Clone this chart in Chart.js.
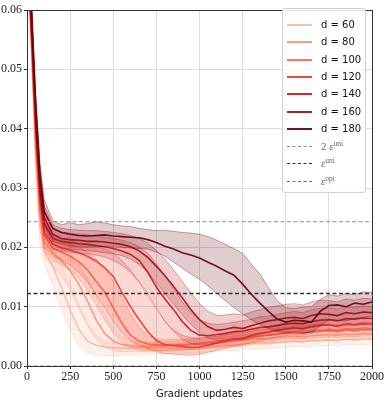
<!DOCTYPE html>
<html>
<head>
<meta charset="utf-8">
<script src="https://cdn.jsdelivr.net/npm/chart.js@4.4.1/dist/chart.umd.min.js"></script>
<style>
  html, body { margin: 0; padding: 0; background: #fff; }
  #wrap { position: relative; width: 389px; height: 401px; }
  #legend {
    position: absolute; left: 282px; top: 8px; width: 84px; height: 185px;
    background: rgba(255,255,255,0.85); border: 1px solid #d0d0d0; border-radius: 3px;
    box-sizing: border-box; font-family: "DejaVu Sans", sans-serif; font-size: 10px; color: #111;
  }
  .row { position: absolute; left: 0; height: 14px; width: 84px; }
  .sw { position: absolute; left: 4px; width: 25px; top: 6px; }
  .lab { position: absolute; left: 38px; top: 0px; line-height: 14px; white-space: nowrap; }
  .math { font-family: "Liberation Serif", serif; font-size: 11px; color: #666; }
  .math i { font-family: "Liberation Serif", serif; }
  .math sup { font-size: 7.5px; vertical-align: 4px; line-height: 0; }
</style>
</head>
<body>
<div id="wrap">
  <canvas id="c" width="389" height="401"></canvas>
  <div id="legend"></div>
</div>
<script>
// ---------------- data ----------------
const steps = [0,25,50,75,100,150,200,250,300,350,400,450,500,550,600,650,700,750,800,850,900,950,1000,1050,1100,1150,1200,1250,1300,1350,1400,1450,1500,1550,1600,1650,1700,1750,1800,1850,1900,1950,2000];
const dValues = [60, 80, 100, 120, 140, 160, 180];

const d60_mean = [0.075,0.056,0.036,0.024,0.0195,0.0168,0.0133,0.0095,0.0062,0.0042,0.0035,0.0032,0.0031,0.003,0.003,0.0031,0.003,0.0031,0.0031,0.003,0.0031,0.0032,0.0032,0.0033,0.0034,0.0035,0.0035,0.0037,0.0038,0.0039,0.0039,0.004,0.0041,0.0042,0.0041,0.0043,0.0043,0.0044,0.0043,0.0045,0.0044,0.0045,0.0046];
const d60_hi = [0.08,0.06,0.04,0.0275,0.0224,0.0195,0.0172,0.0138,0.0102,0.0072,0.0052,0.0042,0.0039,0.0038,0.0037,0.0038,0.0037,0.0038,0.0039,0.0038,0.0039,0.004,0.004,0.0041,0.0042,0.0043,0.0043,0.0045,0.0046,0.0047,0.0047,0.0048,0.005,0.0051,0.005,0.0052,0.0052,0.0053,0.0052,0.0054,0.0053,0.0054,0.0055];
const d60_lo = [0.07,0.052,0.032,0.0205,0.0172,0.0135,0.0095,0.006,0.0035,0.0022,0.0018,0.0017,0.0017,0.0018,0.0019,0.0019,0.002,0.002,0.0021,0.0021,0.0022,0.0022,0.0023,0.0024,0.0025,0.0026,0.0026,0.0028,0.0029,0.003,0.003,0.0031,0.0032,0.0033,0.0032,0.0034,0.0034,0.0035,0.0034,0.0036,0.0035,0.0036,0.0037];

const d80_mean = [0.075,0.057,0.038,0.026,0.021,0.019,0.0178,0.016,0.0138,0.011,0.0078,0.0055,0.0042,0.0036,0.0034,0.0033,0.0033,0.0034,0.0034,0.0035,0.0035,0.0036,0.0037,0.0038,0.0039,0.004,0.0042,0.0043,0.0045,0.0046,0.0046,0.0048,0.0049,0.005,0.0049,0.0051,0.0052,0.0053,0.0052,0.0054,0.0053,0.0055,0.0054];
const d80_hi = [0.08,0.061,0.042,0.029,0.0235,0.0208,0.0196,0.0185,0.017,0.0148,0.0118,0.0088,0.0065,0.005,0.0043,0.0041,0.004,0.0041,0.0041,0.0042,0.0043,0.0044,0.0045,0.0046,0.0047,0.0049,0.0051,0.0052,0.0054,0.0055,0.0056,0.0058,0.0059,0.006,0.0059,0.0061,0.0062,0.0063,0.0062,0.0064,0.0063,0.0065,0.0064];
const d80_lo = [0.07,0.053,0.034,0.023,0.0185,0.0168,0.0152,0.0128,0.0098,0.0068,0.0045,0.0032,0.0026,0.0024,0.0024,0.0024,0.0025,0.0026,0.0026,0.0027,0.0027,0.0028,0.0029,0.003,0.0031,0.0032,0.0033,0.0034,0.0036,0.0037,0.0037,0.0039,0.004,0.0041,0.004,0.0042,0.0043,0.0044,0.0043,0.0045,0.0044,0.0046,0.0045];

const d100_mean = [0.075,0.058,0.04,0.028,0.022,0.0198,0.0192,0.0185,0.0176,0.0162,0.0143,0.0125,0.0098,0.0072,0.0052,0.0042,0.0037,0.0036,0.0035,0.0036,0.0036,0.0037,0.0038,0.004,0.0041,0.0043,0.0045,0.0047,0.0049,0.0051,0.0052,0.0054,0.0055,0.0056,0.0055,0.0058,0.0059,0.006,0.0059,0.0061,0.006,0.0062,0.0061];
const d100_hi = [0.08,0.062,0.043,0.031,0.0245,0.0218,0.021,0.0205,0.02,0.0192,0.018,0.0165,0.0142,0.0115,0.0088,0.0065,0.0052,0.0046,0.0044,0.0045,0.0045,0.0046,0.0047,0.0049,0.005,0.0052,0.0055,0.0057,0.0059,0.0061,0.0062,0.0064,0.0065,0.0067,0.0066,0.0069,0.007,0.0071,0.007,0.0072,0.0071,0.0073,0.0072];
const d100_lo = [0.07,0.054,0.036,0.025,0.0195,0.0178,0.0172,0.0162,0.0148,0.0128,0.0103,0.0078,0.0056,0.004,0.0031,0.0027,0.0026,0.0026,0.0026,0.0027,0.0027,0.0028,0.0029,0.0031,0.0032,0.0034,0.0035,0.0037,0.0039,0.0041,0.0042,0.0044,0.0045,0.0046,0.0045,0.0047,0.0048,0.0049,0.0048,0.005,0.0049,0.0051,0.005];

const d120_mean = [0.075,0.058,0.041,0.029,0.0225,0.0205,0.0199,0.0195,0.0191,0.0185,0.0177,0.0166,0.0151,0.0124,0.01,0.0078,0.0058,0.0043,0.0036,0.0034,0.0033,0.0031,0.0032,0.0035,0.0039,0.0042,0.0045,0.0046,0.0052,0.0055,0.0057,0.006,0.0062,0.0064,0.0063,0.0066,0.0068,0.0069,0.0067,0.007,0.0069,0.0071,0.007];
const d120_hi = [0.08,0.062,0.044,0.032,0.025,0.0222,0.0215,0.0212,0.0208,0.0205,0.0202,0.0197,0.019,0.0178,0.0162,0.0142,0.0118,0.0095,0.0075,0.006,0.0052,0.0048,0.0047,0.0048,0.005,0.0053,0.0056,0.0058,0.0062,0.0065,0.0067,0.007,0.0072,0.0074,0.0073,0.0076,0.0078,0.0079,0.0077,0.008,0.0079,0.0081,0.008];
const d120_lo = [0.07,0.054,0.037,0.026,0.02,0.0185,0.0178,0.017,0.0158,0.0142,0.012,0.0098,0.0075,0.0056,0.0043,0.0035,0.0029,0.0024,0.0021,0.002,0.0019,0.0018,0.002,0.0023,0.0027,0.003,0.0033,0.0035,0.004,0.0043,0.0046,0.0049,0.0051,0.0053,0.0052,0.0055,0.0057,0.0058,0.0056,0.0059,0.0058,0.006,0.0059];

const d140_mean = [0.075,0.059,0.042,0.03,0.024,0.0215,0.021,0.0208,0.0206,0.0205,0.0203,0.0201,0.0198,0.0194,0.0188,0.0178,0.0158,0.0133,0.0113,0.0095,0.0075,0.006,0.0052,0.0051,0.0053,0.0055,0.0058,0.0059,0.0062,0.0065,0.0066,0.0068,0.0071,0.0072,0.0071,0.0075,0.0077,0.0078,0.0076,0.008,0.0079,0.0081,0.008];
const d140_hi = [0.08,0.063,0.045,0.033,0.026,0.0232,0.0226,0.0224,0.0222,0.0221,0.0219,0.0217,0.0215,0.0212,0.0208,0.0201,0.019,0.0172,0.0152,0.013,0.0108,0.009,0.0078,0.0072,0.007,0.0071,0.0074,0.0076,0.0079,0.0083,0.0084,0.0087,0.009,0.0092,0.009,0.0095,0.0097,0.0098,0.0096,0.01,0.0099,0.0101,0.01];
const d140_lo = [0.07,0.055,0.039,0.027,0.022,0.0198,0.0194,0.0192,0.019,0.0189,0.0187,0.0184,0.0178,0.017,0.0158,0.0142,0.0122,0.0098,0.0075,0.0058,0.0045,0.0038,0.0035,0.0036,0.0038,0.004,0.0043,0.0044,0.0047,0.005,0.0051,0.0053,0.0055,0.0056,0.0055,0.0058,0.006,0.0061,0.0059,0.0063,0.0062,0.0064,0.0063];

const d160_mean = [0.075,0.059,0.043,0.031,0.025,0.0222,0.0215,0.0213,0.0212,0.021,0.021,0.0209,0.0207,0.0205,0.0201,0.0194,0.0183,0.0168,0.0152,0.0134,0.0115,0.0095,0.0078,0.0066,0.006,0.0062,0.0065,0.0063,0.0068,0.0072,0.0076,0.0078,0.0081,0.0082,0.008,0.0085,0.0088,0.0087,0.0085,0.009,0.0088,0.0091,0.009];
const d160_hi = [0.08,0.063,0.046,0.034,0.027,0.0238,0.0232,0.023,0.0229,0.0228,0.0228,0.0227,0.0225,0.0223,0.022,0.0215,0.0207,0.0195,0.018,0.0162,0.0143,0.0123,0.0105,0.0092,0.0085,0.0086,0.0088,0.0086,0.0091,0.0095,0.0099,0.0101,0.0104,0.0105,0.0103,0.0108,0.0111,0.011,0.0108,0.0113,0.0111,0.0114,0.0113];
const d160_lo = [0.07,0.056,0.04,0.028,0.023,0.0205,0.0199,0.0197,0.0196,0.0194,0.0193,0.0191,0.0189,0.0186,0.018,0.0171,0.0158,0.014,0.0122,0.0104,0.0086,0.007,0.0057,0.0047,0.0043,0.0044,0.0047,0.0045,0.005,0.0054,0.0058,0.006,0.0063,0.0064,0.0062,0.0067,0.007,0.0069,0.0067,0.0072,0.007,0.0073,0.0072];

const d180_mean = [0.075,0.06,0.044,0.032,0.026,0.0232,0.0225,0.0222,0.022,0.0219,0.022,0.0221,0.0219,0.0218,0.0217,0.0216,0.0213,0.0208,0.0202,0.0197,0.0191,0.0187,0.0182,0.0175,0.0168,0.016,0.0153,0.0138,0.0121,0.0106,0.0092,0.0079,0.0074,0.0077,0.0076,0.0074,0.0092,0.0102,0.0103,0.01,0.0106,0.0104,0.0108];
const d180_hi = [0.08,0.062,0.046,0.034,0.028,0.0245,0.0238,0.0242,0.0238,0.024,0.0243,0.0241,0.0238,0.0236,0.0235,0.0232,0.023,0.0228,0.0229,0.0227,0.0225,0.0224,0.0222,0.0218,0.0212,0.0205,0.0198,0.019,0.0172,0.0155,0.0132,0.011,0.0098,0.0097,0.0099,0.01,0.0112,0.012,0.0118,0.0122,0.012,0.0125,0.0124];
const d180_lo = [0.07,0.057,0.041,0.029,0.0235,0.021,0.0205,0.0202,0.0201,0.02,0.0201,0.0202,0.0201,0.02,0.0199,0.0198,0.0197,0.0192,0.0185,0.0175,0.0165,0.0155,0.0146,0.0135,0.0122,0.011,0.0098,0.0088,0.0078,0.007,0.0063,0.0058,0.0056,0.0058,0.0057,0.0056,0.0068,0.0078,0.0077,0.0076,0.008,0.0082,0.0084];

const eps2uni = 0.0243;
const epsUni = 0.0122;
const epsOpt = 0.0;

const xTicks = [0, 250, 500, 750, 1000, 1250, 1500, 1750, 2000];
const yTicks = [0.00, 0.01, 0.02, 0.03, 0.04, 0.05, 0.06];

// ---------------- styling ----------------
const colors = ['#fcbba1', '#fc9272', '#fb6a4a', '#ef3b2c', '#cb181d', '#a50f15', '#67000d'];
const series = [
  [d60_mean, d60_lo, d60_hi], [d80_mean, d80_lo, d80_hi], [d100_mean, d100_lo, d100_hi],
  [d120_mean, d120_lo, d120_hi], [d140_mean, d140_lo, d140_hi], [d160_mean, d160_lo, d160_hi],
  [d180_mean, d180_lo, d180_hi]
];
function rgba(hex, a) {
  const r = parseInt(hex.slice(1,3),16), g = parseInt(hex.slice(3,5),16), b = parseInt(hex.slice(5,7),16);
  return `rgba(${r},${g},${b},${a})`;
}
const pts = arr => steps.map((s, i) => ({x: s, y: arr[i]}));

const datasets = [];
series.forEach((s, i) => {
  const c = colors[i];
  const base = 100 - i * 10;
  const loIdx = datasets.length;
  datasets.push({ label: 'lo' + dValues[i], data: pts(s[1]), borderColor: rgba(c, 0.45), borderWidth: 0.8,
    pointRadius: 0, fill: false, order: base + 2 });
  datasets.push({ label: 'hi' + dValues[i], data: pts(s[2]), borderColor: rgba(c, 0.45), borderWidth: 0.8,
    pointRadius: 0, fill: { target: loIdx }, backgroundColor: rgba(c, 0.2), order: base + 1 });
  datasets.push({ label: 'd = ' + dValues[i], data: pts(s[0]), borderColor: rgba(c, 0.92), borderWidth: 1.6,
    pointRadius: 0, fill: false, order: base });
});
const refLines = [
  { v: eps2uni, color: '#8a8a8a', w: 1.1, dash: [4, 2.5] },
  { v: epsUni, color: '#333333', w: 1.5, dash: [4, 2.5] },
  { v: epsOpt, color: '#e06060', w: 1.2, dash: [4, 2.5] }
];
refLines.forEach((r, i) => {
  datasets.push({ label: 'ref' + i, data: [{x: 0, y: r.v}, {x: 2000, y: r.v}], borderColor: r.color,
    borderWidth: r.w, borderDash: r.dash, pointRadius: 0, fill: false, order: -1 });
});

const frame = {
  id: 'frame',
  afterDraw(chart) {
    const {ctx, chartArea: a} = chart;
    ctx.save();
    ctx.strokeStyle = '#333';
    ctx.lineWidth = 1;
    ctx.strokeRect(Math.round(a.left) + 0.5, Math.round(a.top) + 0.5, Math.round(a.right - a.left), Math.round(a.bottom - a.top));
    ctx.restore();
  }
};

const tickFont = { family: 'Liberation Serif', size: 12 };
new Chart(document.getElementById('c'), {
  type: 'line',
  data: { datasets },
  options: {
    responsive: false, animation: false,
    layout: { padding: { left: 0, right: 17, top: 10, bottom: 0 } },
    plugins: { legend: { display: false }, tooltip: { enabled: false } },
    elements: { line: { tension: 0 } },
    scales: {
      x: {
        type: 'linear', min: 0, max: 2000,
        afterBuildTicks: s => { s.ticks = xTicks.map(v => ({value: v})); },
        afterFit: s => { s.height = 35; },
        ticks: { color: '#222', font: tickFont, maxRotation: 0, padding: 1,
          callback: v => String(v) },
        grid: { color: '#dddddd', lineWidth: 1, tickLength: 3, tickColor: '#333' },
        border: { display: false },
        title: { display: true, text: 'Gradient updates', color: '#111',
          font: { family: 'DejaVu Sans', size: 10 }, padding: { top: 0, bottom: 1 } }
      },
      y: {
        min: 0, max: 0.06,
        afterBuildTicks: s => { s.ticks = yTicks.map(v => ({value: v})); },
        afterFit: s => { s.width = 27; },
        ticks: { color: '#222', font: tickFont, padding: 2,
          callback: v => Number(v).toFixed(2) },
        grid: { color: '#dddddd', lineWidth: 1, tickLength: 3, tickColor: '#333' },
        border: { display: false }
      }
    }
  },
  plugins: [frame]
});

// ---------------- legend (HTML text) ----------------
const legend = document.getElementById('legend');
const legendItems = dValues.map((d, i) => ({ kind: 'line', color: rgba(colors[i], 0.92), html: 'd = ' + d }));
legendItems.push({ kind: 'dash', color: '#8a8a8a', html: '<span class="math">2 <i>ε</i><sup>uni</sup></span>' });
legendItems.push({ kind: 'dash', color: '#333333', html: '<span class="math"><i>ε</i><sup>uni</sup></span>' });
legendItems.push({ kind: 'dash', color: '#e83030', html: '<span class="math"><i>ε</i><sup>opt</sup></span>' });
legendItems.forEach((it, i) => {
  const row = document.createElement('div');
  row.className = 'row';
  row.style.top = (9 + i * 17.3) + 'px';
  const sw = document.createElement('div');
  sw.className = 'sw';
  if (it.kind === 'line') { sw.style.borderTop = '2px solid ' + it.color; sw.style.top = '6px'; }
  else { sw.style.borderTop = '1.5px dashed ' + it.color; sw.style.top = '7px'; }
  const lab = document.createElement('div');
  lab.className = 'lab';
  lab.innerHTML = it.html;
  row.appendChild(sw); row.appendChild(lab);
  legend.appendChild(row);
});
</script>
</body>
</html>
